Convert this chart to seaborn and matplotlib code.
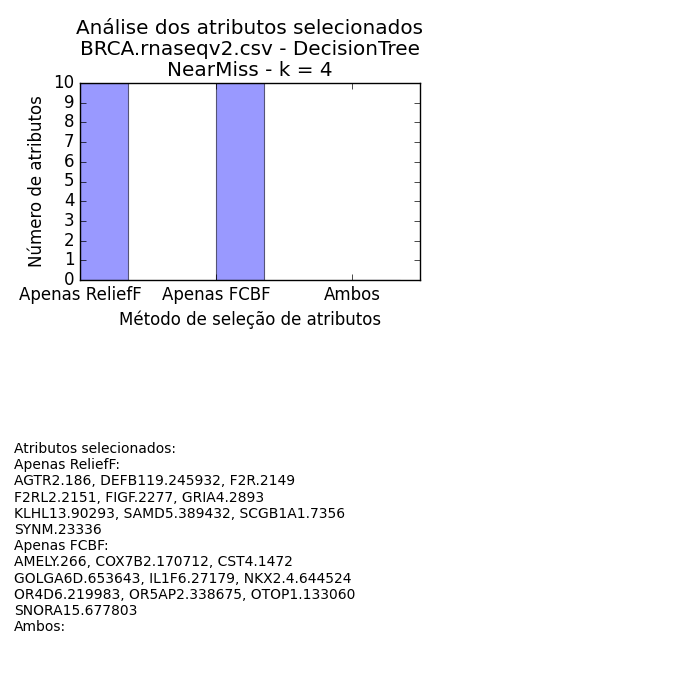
import matplotlib
matplotlib.use("Agg")
import matplotlib.pyplot as plt
import seaborn as sns
import pandas as pd

plt.style.use("classic")

categories = ["Apenas ReliefF", "Apenas FCBF", "Ambos"]
values = [10, 10, 0]
yticks = list(range(0, 11))

title = "Análise dos atributos selecionados\nBRCA.rnaseqv2.csv - DecisionTree\nNearMiss - k = 4"
xlabel = "Método de seleção de atributos"
ylabel = "Número de atributos"

info_lines = [
    "Atributos selecionados:",
    "Apenas ReliefF:",
    "AGTR2.186, DEFB119.245932, F2R.2149",
    "F2RL2.2151, FIGF.2277, GRIA4.2893",
    "KLHL13.90293, SAMD5.389432, SCGB1A1.7356",
    "SYNM.23336",
    "Apenas FCBF:",
    "AMELY.266, COX7B2.170712, CST4.1472",
    "GOLGA6D.653643, IL1F6.27179, NKX2.4.644524",
    "OR4D6.219983, OR5AP2.338675, OTOP1.133060",
    "SNORA15.677803",
    "Ambos:",
]

df = pd.DataFrame({"metodo": categories, "n": values})

fig = plt.figure(figsize=(7, 7), dpi=100, facecolor="white")
ax = fig.add_axes([80 / 700, 1 - 280 / 700, 340 / 700, 197 / 700])

w = 0.35
sns.barplot(data=df, x="metodo", y="n", ax=ax, width=w, color="#9999ff",
            saturation=1, edgecolor="#555577", linewidth=0.8)

ax.set_xlim(-w / 2, 2.5 - w / 2)
ax.set_xticks([i - w / 2 for i in range(len(categories))])
ax.set_xticklabels(categories, fontsize=12)
ax.set_ylim(0, 10)
ax.set_yticks(yticks)
ax.set_yticklabels([str(t) for t in yticks], fontsize=12)
ax.set_xlabel(xlabel, fontsize=12)
ax.set_ylabel(ylabel, fontsize=12)
ax.set_title(title, fontsize=14.4, linespacing=1.12)
ax.tick_params(direction="in", top=True, right=True)

fig.text(14 / 700, 1 - 442 / 700, "\n".join(info_lines), fontsize=10,
         va="top", ha="left", linespacing=1.2)

fig.savefig("out.png", dpi=100, facecolor="white")
